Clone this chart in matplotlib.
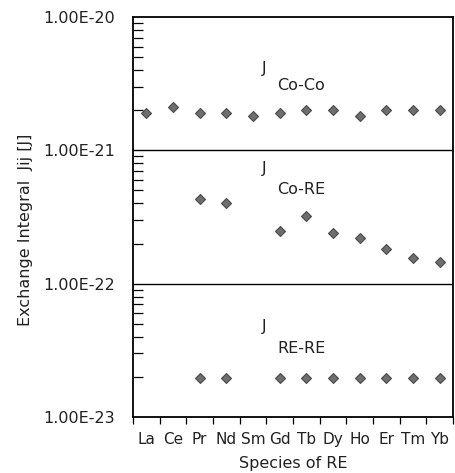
import numpy as np
import matplotlib
matplotlib.use('Agg')
import matplotlib.pyplot as plt
from matplotlib.ticker import LogLocator, NullFormatter, FixedLocator

# species of rare earth
species = ['La', 'Ce', 'Pr', 'Nd', 'Sm', 'Gd', 'Tb', 'Dy', 'Ho', 'Er', 'Tm', 'Yb']

# exchange integrals [J], nan = no point
j_coco = [1.9e-21, 2.1e-21, 1.9e-21, 1.9e-21, 1.8e-21, 1.9e-21,
          2.0e-21, 2.0e-21, 1.8e-21, 2.0e-21, 2.0e-21, 2.0e-21]
j_core = [np.nan, np.nan, 4.3e-22, 4.0e-22, np.nan, 2.5e-22,
          3.2e-22, 2.4e-22, 2.2e-22, 1.83e-22, 1.55e-22, 1.45e-22]
j_rere = [np.nan, np.nan, 1.95e-23, 1.95e-23, np.nan, 1.95e-23,
          1.95e-23, 1.95e-23, 1.95e-23, 1.95e-23, 1.95e-23, 1.95e-23]

y_ticks = [1e-23, 1e-22, 1e-21, 1e-20]
y_ticklabels = ['1.00E-23', '1.00E-22', '1.00E-21', '1.00E-20']

plt.rcParams['font.family'] = ['DejaVu Sans']
plt.rcParams['font.size'] = 11.5
txt_color = '#222222'

fig = plt.figure(figsize=(4.55, 4.73), dpi=100)
ax = fig.add_axes([133 / 455, 56 / 473, 320 / 455, 400 / 473])

x = np.arange(len(species))
for vals in (j_coco, j_core, j_rere):
    ax.plot(x, vals, linestyle='none', marker='D', markersize=5,
            markerfacecolor='#6e6e6e', markeredgecolor='#4a4a4a',
            markeredgewidth=0.8)

ax.set_yscale('log')
ax.set_ylim(1e-23, 1e-20)
ax.set_xlim(-0.5, len(species) - 0.5)

# separators between the three groups
for yv in (1e-22, 1e-21):
    ax.axhline(yv, color='black', linewidth=1.0)

# group labels
groups = [('Co-Co', 0.8725, 0.8275), ('Co-RE', 0.6225, 0.5675), ('RE-RE', 0.225, 0.1725)]
for name, yj, yn in groups:
    ax.text(0.403, yj, 'J', transform=ax.transAxes, ha='left', va='center',
            color=txt_color)
    ax.text(0.45, yn, name, transform=ax.transAxes, ha='left', va='center',
            color=txt_color)

# y axis ticks
ax.set_yticks(y_ticks)
ax.set_yticklabels(y_ticklabels, color=txt_color)
ax.yaxis.set_minor_locator(LogLocator(base=10, subs=np.arange(2, 10), numticks=20))
ax.yaxis.set_minor_formatter(NullFormatter())
ax.tick_params(axis='y', which='major', length=0, pad=13)
ax.tick_params(axis='y', which='minor', direction='in', length=7, width=0.9,
               left=True, right=False)

# x axis ticks: labels at centres, tick marks at boundaries
ax.set_xticks(x)
ax.set_xticklabels(species, color=txt_color, fontsize=11)
ax.xaxis.set_minor_locator(FixedLocator(np.arange(-0.5, len(species), 1.0)))
ax.tick_params(axis='x', which='major', length=0, pad=11)
ax.tick_params(axis='x', which='minor', direction='out', length=5, width=0.9)

for s in ax.spines.values():
    s.set_linewidth(1.3)

ax.set_xlabel('Species of RE', labelpad=6, color=txt_color)
ax.set_ylabel('Exchange Integral  Jij [J]', color=txt_color)
ax.yaxis.set_label_coords(-0.3125, 0.4675)

fig.savefig('out.png', dpi=100)
